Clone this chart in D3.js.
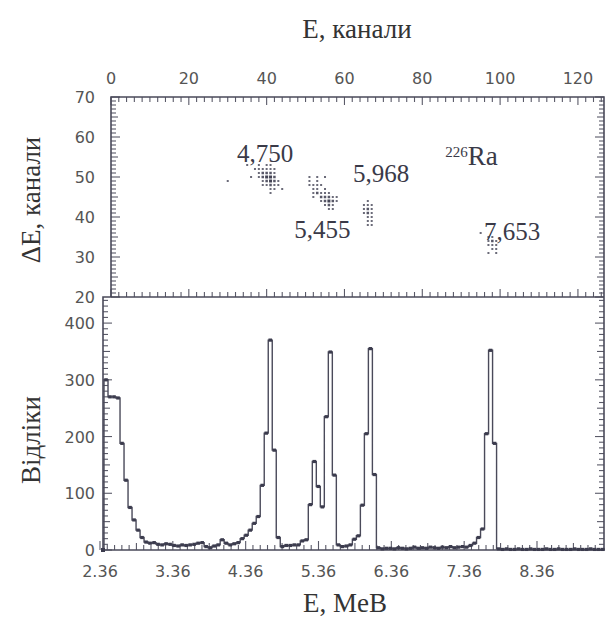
<!DOCTYPE html>
<html>
<head>
<meta charset="utf-8">
<script src="https://cdn.jsdelivr.net/npm/d3@7"></script>
<style>
  body { margin: 0; background: #fff; }
  .tick-label { font-family: "DejaVu Sans", sans-serif; font-size: 16px; fill: #555; }
  .title { font-family: "Liberation Serif", serif; font-size: 27px; fill: #333; }
  .note { font-family: "Liberation Serif", serif; font-size: 25px; fill: #3a3a48; }
</style>
</head>
<body>
<svg id="chart" width="607" height="628"></svg>
<script>
// ---- data ----
const channelTicks = [0, 20, 40, 60, 80, 100, 120]
const deTicks      = [20, 30, 40, 50, 60, 70]
const energyTicks  = [2.36, 3.36, 4.36, 5.36, 6.36, 7.36, 8.36]
const countTicks   = [0, 100, 200, 300, 400]

// dE-E events: [E channel, dE channel, weight]
const cluster4750 = [
  [30,49,1],[35,53,1],[36,50,1],
  [38,53,1],[40,53,1],[41,53,1],
  [37,52,1],[38,52,1],[39,52,1],[40,52,1],[41,52,1],[42,52,1],
  [38,51,1],[39,51,2],[40,51,2],[41,51,2],[42,51,1],
  [38,50,1],[39,50,2],[40,50,3],[41,50,3],[42,50,2],
  [39,49,1],[40,49,2],[41,49,3],[42,49,2],[43,49,1],
  [39,48,1],[40,48,1],[41,48,2],[42,48,1],[43,48,1],
  [41,47,1],[42,47,1],[44,47,1],
  [41,46,1]
]
const cluster5455 = [
  [51,50,1],[53,50,1],[55,50,1],
  [51,49,1],[53,49,1],
  [51,48,1],[52,48,1],[53,48,1],[54,48,1],
  [52,47,1],[53,47,1],[55,47,1],
  [52,46,1],[53,46,2],[54,46,1],[55,46,1],[56,46,1],
  [52,45,1],[54,45,2],[55,45,2],[56,45,2],[57,45,1],[58,45,1],
  [54,44,1],[55,44,2],[56,44,3],[57,44,2],[58,44,1],
  [55,43,1],[56,43,2],[57,43,1],
  [56,42,1],[57,42,1]
]
const cluster5968 = [
  [66,44,1],
  [65,43,1],[66,43,1],[67,43,1],
  [65,42,1],[66,42,2],[67,42,1],
  [65,41,1],[66,41,2],[67,41,1],
  [66,40,1],[67,40,1],
  [66,39,1],[67,39,1],
  [66,38,1],[67,38,1]
]
const cluster7653 = [
  [95,36,1],
  [97,35,1],[98,35,1],
  [97,34,1],[98,34,2],[99,34,1],
  [97,33,1],[98,33,1],[99,33,1],
  [98,32,1],[99,32,1],
  [97,31,1],[99,31,1]
]
const lineLabels = [
  { text: '4,750', ch: 39.6,  de: 53.7 },
  { text: '5,968', ch: 69.4,  de: 48.7 },
  { text: '5,455', ch: 54.3,  de: 34.7 },
  { text: '7,653', ch: 103.1, de: 34.2 }
]

// spectrum, bins of 0.055 MeV starting at 2.415 MeV
const binStart = 2.415, binWidth = 0.055
const counts = [
  300, 270, 270, 268, 188, 123, 75, 53, 35, 22,
  14, 12, 13, 10, 9, 11, 10, 8, 7, 9,
  8, 9, 10, 12, 13, 6, 4, 7, 9, 18,
  12, 9, 11, 13, 20, 26, 35, 47, 59, 114,
  206, 370, 176, 22, 6, 8, 8, 9, 9, 16,
  18, 80, 156, 112, 76, 235, 349, 132, 9, 6,
  7, 9, 19, 25, 79, 205, 355, 133, 4, 2,
  3, 3, 2, 4, 3, 2, 3, 5, 3, 4,
  3, 5, 4, 3, 5, 4, 6, 4, 5, 6,
  5, 8, 12, 22, 37, 205, 352, 188, 2, 1,
  2, 1, 1, 2, 1, 1, 2, 1, 1, 1,
  2, 1, 1, 2, 1, 1, 1, 2, 1, 1,
  1, 2, 1, 1, 1
]

// ---- layout ----
const frame = { top: 97, mid: 297, bottom: 550, right: 604, leftTop: 111, leftBottom: 103 }
const ink = '#4a4a5a'

const svg = d3.select('#chart')

const xCh = d3.scaleLinear().domain([0, 126.7]).range([frame.leftTop, frame.right])
const yDe = d3.scaleLinear().domain([20, 70]).range([frame.mid, frame.top])
const xE  = d3.scaleLinear().domain([2.36, 9.28]).range([100, frame.right])
const yN  = d3.scaleLinear().domain([0, 446]).range([frame.bottom, frame.mid])

const ticks = (data, attrs) => {
  svg.append('g')
    .attr('stroke', '#5a5a68')
    .attr('stroke-width', 1.1)
    .selectAll('line')
    .data(data)
    .enter()
    .append('line')
      .attr('x1', attrs.x1).attr('y1', attrs.y1)
      .attr('x2', attrs.x2).attr('y2', attrs.y2)
}

// top panel ticks
const chMinor = d3.range(0, 127, 2)
const chLen = d => d % 20 === 0 ? 8 : 5
ticks(chMinor, { x1: d => xCh(d), x2: d => xCh(d), y1: frame.top, y2: d => frame.top + chLen(d) })
ticks(chMinor, { x1: d => xCh(d), x2: d => xCh(d), y1: frame.mid, y2: d => frame.mid - chLen(d) })
const deMinor = d3.range(20, 71, 1)
const deLen = d => d % 10 === 0 ? 9 : (d % 5 === 0 ? 7 : 5)
ticks(deMinor, { x1: frame.leftTop, x2: d => frame.leftTop + deLen(d), y1: d => yDe(d), y2: d => yDe(d) })
ticks(deMinor, { x1: frame.right, x2: d => frame.right - deLen(d), y1: d => yDe(d), y2: d => yDe(d) })

// bottom panel ticks
const nMinor = d3.range(0, 447, 10)
const nLen = d => d % 100 === 0 ? 9 : (d % 50 === 0 ? 7 : 5)
ticks(nMinor, { x1: frame.leftBottom, x2: d => frame.leftBottom + nLen(d), y1: d => yN(d), y2: d => yN(d) })
ticks(nMinor, { x1: frame.right, x2: d => frame.right - nLen(d), y1: d => yN(d), y2: d => yN(d) })
const eMinor = d3.range(24, 93) // tenths of MeV offset by .06
const eLen = k => (k - 24) % 10 === 0 ? 9 : ((k - 24) % 5 === 0 ? 7 : 5)
ticks(eMinor, { x1: k => xE((k - 0.4) / 10), x2: k => xE((k - 0.4) / 10), y1: frame.bottom, y2: k => frame.bottom - eLen(k) })

// frame
const framePath = d3.path()
framePath.moveTo(frame.leftTop, frame.mid)
framePath.lineTo(frame.leftTop, frame.top)
framePath.lineTo(frame.right, frame.top)
framePath.lineTo(frame.right, frame.bottom)
framePath.lineTo(frame.leftBottom, frame.bottom)
framePath.lineTo(frame.leftBottom, frame.mid)
framePath.lineTo(frame.right, frame.mid)
svg.append('path')
  .attr('d', framePath.toString())
  .attr('fill', 'none')
  .attr('stroke', ink)
  .attr('stroke-width', 1.6)

// tick labels
svg.selectAll('text.ch-label')
  .data(channelTicks)
  .enter()
  .append('text')
    .attr('class', 'tick-label ch-label')
    .attr('x', d => xCh(d))
    .attr('y', 84)
    .attr('text-anchor', 'middle')
    .text(d => d)

svg.selectAll('text.de-label')
  .data(deTicks)
  .enter()
  .append('text')
    .attr('class', 'tick-label de-label')
    .attr('x', 95)
    .attr('y', d => yDe(d) + 6)
    .attr('text-anchor', 'end')
    .text(d => d)

svg.selectAll('text.n-label')
  .data(countTicks)
  .enter()
  .append('text')
    .attr('class', 'tick-label n-label')
    .attr('x', 95)
    .attr('y', d => yN(d) + 6)
    .attr('text-anchor', 'end')
    .text(d => d)

svg.selectAll('text.e-label')
  .data(energyTicks)
  .enter()
  .append('text')
    .attr('class', 'tick-label e-label')
    .attr('x', d => xE(d))
    .attr('y', 577)
    .attr('text-anchor', 'middle')
    .text(d => d.toFixed(2))

// axis titles
svg.append('text').attr('class', 'title')
  .attr('x', 357).attr('y', 38).attr('text-anchor', 'middle')
  .text('E, канали')
svg.append('text').attr('class', 'title')
  .attr('x', 345).attr('y', 612).attr('text-anchor', 'middle')
  .text('E, MeB')
svg.append('text').attr('class', 'title')
  .attr('transform', 'translate(40,200) rotate(-90)').attr('text-anchor', 'middle')
  .text('ΔE, канали')
svg.append('text').attr('class', 'title')
  .attr('transform', 'translate(40,440) rotate(-90)').attr('text-anchor', 'middle')
  .text('Відліки')

// scatter of dE-E events
const events = [].concat(cluster4750, cluster5455, cluster5968, cluster7653)
const dot = w => 1.5 + w * 0.5
svg.append('g')
  .attr('fill', '#3a3a4c')
  .selectAll('rect')
  .data(events)
  .enter()
  .append('rect')
    .attr('x', d => xCh(d[0]) - dot(d[2]) / 2)
    .attr('y', d => yDe(d[1]) - dot(d[2]) / 2)
    .attr('width', d => dot(d[2]))
    .attr('height', d => dot(d[2]))
    .attr('opacity', d => 0.65 + d[2] * 0.1)

svg.selectAll('text.line-label')
  .data(lineLabels)
  .enter()
  .append('text')
    .attr('class', 'note line-label')
    .attr('x', d => xCh(d.ch))
    .attr('y', d => yDe(d.de))
    .attr('text-anchor', 'middle')
    .text(d => d.text)

const ra = svg.append('text')
  .attr('class', 'note')
  .attr('x', xCh(85.9))
  .attr('y', yDe(53))
ra.append('tspan').attr('font-size', 15).attr('dy', -8).text('226')
ra.append('tspan').attr('dy', 8).attr('font-size', 27).text('Ra')

// spectrum as a step line with markers
const edges = counts.map((c, i) => [binStart + i * binWidth, c])
const stepPts = [[binStart, 0]].concat(edges, [[binStart + counts.length * binWidth, counts[counts.length - 1]]])
const line = d3.line()
  .x(d => xE(d[0]))
  .y(d => yN(d[1]))
  .curve(d3.curveStepAfter)

svg.append('path')
  .attr('d', line(stepPts))
  .attr('fill', 'none')
  .attr('stroke', ink)
  .attr('stroke-width', 1.4)

svg.append('g')
  .attr('fill', '#3c3c4e')
  .selectAll('rect')
  .data(counts)
  .enter()
  .append('rect')
    .attr('x', (c, i) => xE(binStart + (i + 0.5) * binWidth) - 1.8)
    .attr('y', c => yN(c) - 1.6)
    .attr('width', 3.6)
    .attr('height', 3.2)

svg.append('rect')
  .attr('x', frame.leftBottom - 2).attr('y', frame.bottom - 2)
  .attr('width', 4).attr('height', 4)
  .attr('fill', '#3c3c4e')
</script>
</body>
</html>
